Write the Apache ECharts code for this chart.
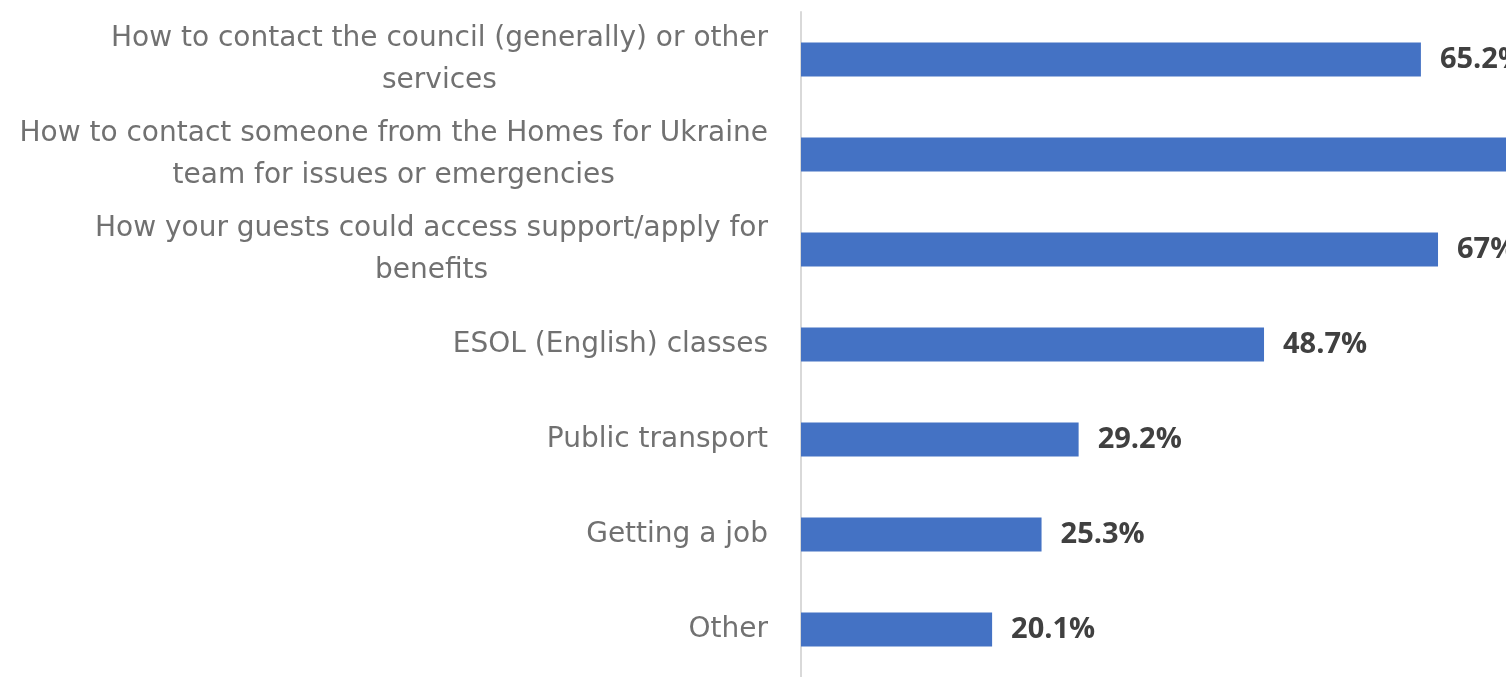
<!DOCTYPE html>
<html>
<head>
<meta charset="utf-8">
<script src="https://cdn.jsdelivr.net/npm/echarts@6/dist/echarts.min.js"></script>
<style>
html,body{margin:0;padding:0;background:#fff;}
#main{width:1506px;height:677px;}
</style>
</head>
<body>
<div id="main"></div>
<script>
const categories = [
  "How to contact the council (generally) or other\nservices",
  "How to contact someone from the Homes for Ukraine\nteam for issues or emergencies",
  "How your guests could access support/apply for\nbenefits",
  "ESOL (English) classes",
  "Public transport",
  "Getting a job",
  "Other"
];
const values = [65.2, 80.0, 67, 48.7, 29.2, 25.3, 20.1];
const valueLabels = ["65.2%", "80.0%", "67%", "48.7%", "29.2%", "25.3%", "20.1%"];

const chart = echarts.init(document.getElementById('main'), null, {renderer: 'canvas'});
chart.setOption({
  animation: false,
  grid: {left: 801, top: 12, right: 0, height: 671, containLabel: false},
  xAxis: {
    type: 'value', min: 0, max: 74.15,
    show: false
  },
  yAxis: {
    type: 'category',
    data: categories,
    inverse: true,
    axisLine: {show: true, lineStyle: {color: '#d9d9d9', width: 2}},
    axisTick: {show: false},
    axisLabel: {
      margin: 33,
      align: 'right',
      formatter: function (v) { return '{c|' + v + '}'; },
      rich: {
        c: {align: 'center', fontFamily: 'DejaVu Sans', fontSize: 28, color: '#717171', lineHeight: 42}
      }
    }
  },
  series: [{
    type: 'bar',
    data: values,
    barWidth: 34,
    itemStyle: {color: '#4472c4'},
    label: {
      show: true,
      position: 'right',
      distance: 19,
      formatter: function (p) { return valueLabels[p.dataIndex]; },
      fontFamily: 'Open Sans',
      fontWeight: 'bold',
      fontSize: 29,
      color: '#404040'
    }
  }]
});
</script>
</body>
</html>
